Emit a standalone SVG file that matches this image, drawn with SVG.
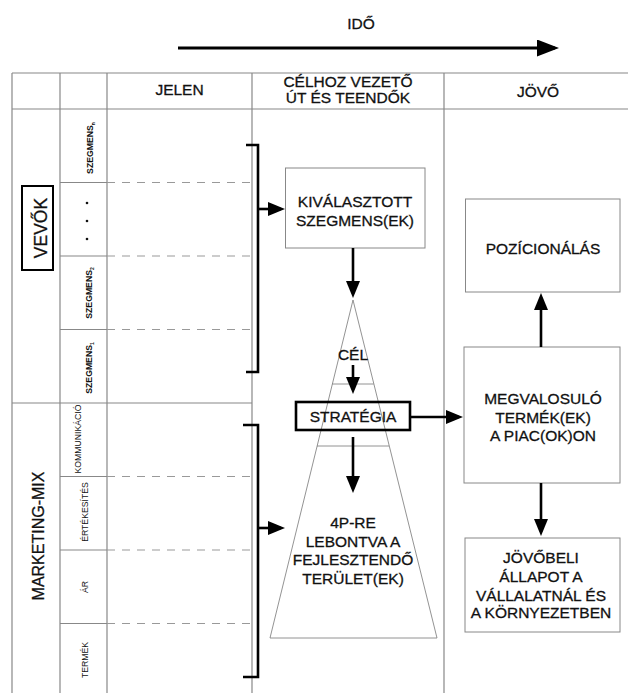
<svg xmlns="http://www.w3.org/2000/svg" width="628" height="693" viewBox="0 0 628 693">
<defs>
<style>
text{font-family:"Liberation Sans",Arial,sans-serif;fill:#111;}
.t{font-size:15.5px;text-anchor:middle;stroke:#111;stroke-width:0.3;}
.s{font-size:8.7px;text-anchor:middle;}
.grid{stroke:#888;stroke-width:1.2;fill:none;}
.dash{stroke:#999;stroke-width:1;stroke-dasharray:8 7;fill:none;}
.box{stroke:#888;stroke-width:1;fill:#fff;}
.thin{stroke:#777;stroke-width:0.8;fill:none;}
.con{stroke:#000;stroke-width:2.6;fill:none;}
.arr{stroke:#000;stroke-width:2.6;fill:none;marker-end:url(#ah);}
</style>
<marker id="ah" viewBox="0 0 17 14" refX="13" refY="7" markerWidth="17" markerHeight="14" markerUnits="userSpaceOnUse" orient="auto">
<path d="M0,0 L17,7 L0,14 z" fill="#000"/>
</marker>
<marker id="ahBig" viewBox="0 0 22 17" refX="18" refY="8.5" markerWidth="22" markerHeight="17" markerUnits="userSpaceOnUse" orient="auto">
<path d="M0,0 L22,8.5 L0,17 z" fill="#000"/>
</marker>
</defs>
<rect width="628" height="693" fill="#fff"/>

<g id="grid">
<line class="grid" x1="12" y1="73" x2="628" y2="73"/>
<line class="grid" x1="12" y1="109" x2="628" y2="109"/>
<line class="grid" x1="12" y1="73" x2="12" y2="693"/>
<line class="grid" x1="60" y1="73" x2="60" y2="693"/>
<line class="grid" x1="107" y1="73" x2="107" y2="693"/>
<line class="grid" x1="252" y1="73" x2="252" y2="693"/>
<line class="grid" x1="444" y1="73" x2="444" y2="693"/>
<line class="grid" x1="12" y1="403" x2="252" y2="403"/>
<path class="grid" d="M60,182.5H107M60,256H107M60,329.5H107M60,476.5H107M60,550H107M60,623.5H107"/>
<path class="dash" d="M107,182.5H252M107,256H252M107,329.5H252M107,476.5H252M107,550H252M107,623.5H252"/>
</g>

<g id="time">
<text class="t" x="361" y="29">IDŐ</text>
</g>

<g id="headers">
<text class="t" x="179.5" y="95">JELEN</text>
<text class="t" x="348" y="87">CÉLHOZ VEZETŐ</text>
<text class="t" x="348" y="103">ÚT ÉS TEENDŐK</text>
<text class="t" x="538" y="97">JÖVŐ</text>
</g>

<g id="vevok">
<rect x="22" y="186" width="31" height="84" fill="#fff" stroke="#000" stroke-width="2"/>
<text class="t" style="font-size:17.5px" transform="translate(46.5,228) rotate(-90)">VEVŐK</text>
</g>

<g id="marketing-mix">
<text class="t" style="font-size:16px" transform="translate(43.5,536) rotate(-90)">MARKETING-MIX</text>
</g>

<g id="segments">
<text class="s" style="font-weight:bold" transform="translate(93,148) rotate(-90)">SZEGMENS<tspan font-size="5" dy="2">n</tspan></text>
<circle cx="87" cy="203" r="1.3" fill="#111"/>
<circle cx="87" cy="221" r="1.3" fill="#111"/>
<circle cx="87" cy="239" r="1.3" fill="#111"/>
<text class="s" style="font-weight:bold" transform="translate(92,293) rotate(-90)">SZEGMENS<tspan font-size="5" dy="2">2</tspan></text>
<text class="s" style="font-weight:bold" transform="translate(92,368) rotate(-90)">SZEGMENS<tspan font-size="5" dy="2">1</tspan></text>
</g>

<g id="mix-items">
<text class="s" transform="translate(81,439) rotate(-90)">KOMMUNIKÁCIÓ</text>
<text class="s" transform="translate(87.5,512) rotate(-90)">ÉRTÉKESÍTÉS</text>
<text class="s" transform="translate(88,587) rotate(-90)">ÁR</text>
<text class="s" transform="translate(88,660) rotate(-90)">TERMÉK</text>
</g>

<g id="kivalasztott">
<rect class="box" x="285.5" y="168" width="139.5" height="80"/>
<text class="t" x="355" y="207">KIVÁLASZTOTT</text>
<text class="t" x="355" y="226">SZEGMENS(EK)</text>
</g>

<g id="piramis">
<polygon class="thin" points="353,300 270,638 437,638"/>
<line class="thin" x1="332.3" y1="384" x2="373.7" y2="384"/>
<line class="thin" x1="317" y1="446" x2="389" y2="446"/>
<text class="t" x="353" y="360">CÉL</text>
<text class="t" x="353" y="528">4P-RE</text>
<text class="t" x="353" y="546.5">LEBONTVA A</text>
<text class="t" x="353" y="565">FEJLESZTENDŐ</text>
<text class="t" x="353" y="583.5">TERÜLET(EK)</text>
</g>

<g id="strategia">
<rect x="296" y="402" width="114" height="28" fill="none" stroke="#000" stroke-width="2.6"/>
<text class="t" x="353" y="422">STRATÉGIA</text>
</g>

<g id="pozicionalas">
<rect class="box" x="465.5" y="199" width="154.5" height="93"/>
<text class="t" x="543" y="254">POZÍCIONÁLÁS</text>
</g>

<g id="megvalosulo">
<rect class="box" x="464" y="347" width="156" height="136"/>
<text class="t" x="543" y="404">MEGVALOSULÓ</text>
<text class="t" x="543" y="423">TERMÉK(EK)</text>
<text class="t" x="543" y="441">A PIAC(OK)ON</text>
</g>

<g id="jovobeli">
<rect class="box" x="465" y="538" width="155" height="94"/>
<text class="t" x="541" y="563">JÖVŐBELI</text>
<text class="t" x="541" y="582">ÁLLAPOT A</text>
<text class="t" x="541" y="600.5">VÁLLALATNÁL ÉS</text>
<text class="t" x="541" y="618">A KÖRNYEZETBEN</text>
</g>

<g id="connectors">
<line x1="178" y1="48" x2="555" y2="48" stroke="#000" stroke-width="3" marker-end="url(#ahBig)"/>
<path class="con" d="M246,145H258V372H246"/>
<path class="con" d="M243,425H258V677H243"/>
<line class="arr" x1="258" y1="209" x2="281" y2="209"/>
<line class="arr" x1="258" y1="528" x2="281" y2="528"/>
<line class="arr" x1="353" y1="248" x2="353" y2="294"/>
<line class="arr" x1="353" y1="365" x2="353" y2="390"/>
<line class="arr" x1="410" y1="417" x2="459" y2="417"/>
<line class="arr" x1="353" y1="437" x2="353" y2="489"/>
<line class="arr" x1="541" y1="347" x2="541" y2="297"/>
<line class="arr" x1="541" y1="483" x2="541" y2="532"/>
</g>
</svg>
